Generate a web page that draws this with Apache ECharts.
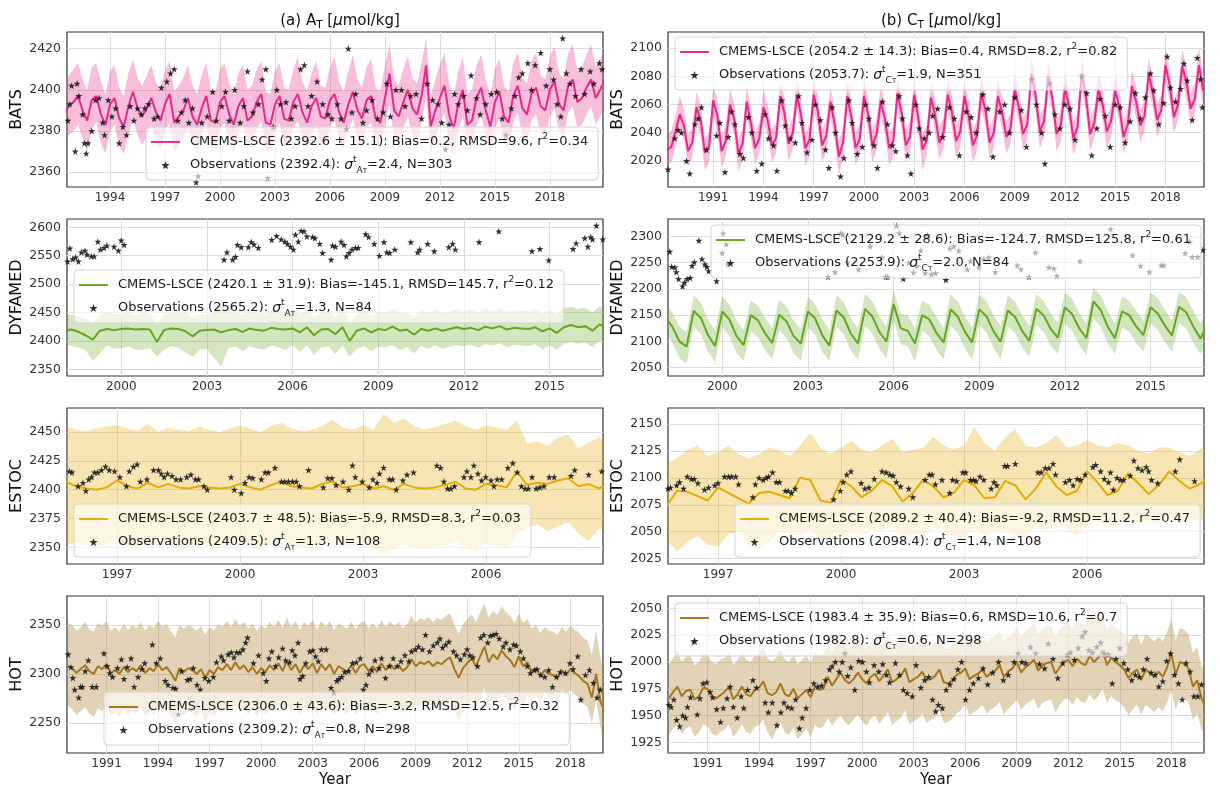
<!DOCTYPE html>
<html lang="en" style="height: 100%">
<head>
<meta charset="utf-8">
<title>CMEMS-LSCE vs observations: AT and CT at four stations</title>
</head>
<body style="height: 100%; margin: 0; background: #fff">
<div id="container" style="width: 1220px; height: 793px"></div>

<script type="text/javascript" src="https://cdn.jsdelivr.net/npm/echarts@6/dist/echarts.min.js"></script>

<script type="text/javascript">

// ---- data, quarterly model values + obs stars ----
var STEP = 0.25;

// BATS, total alkalinity
var batsAtStart = 1991.5;
var batsAtMean = [
  2388, 2392,
  2394, 2397, 2390, 2385,  2395, 2397, 2388, 2383,  2393, 2396, 2386, 2382,  2392, 2399, 2391, 2387,
  2391, 2396, 2389, 2385,  2393, 2398, 2384, 2387,  2390, 2396, 2387, 2383,  2391, 2397, 2385, 2384,
  2394, 2397, 2388, 2383,  2392, 2396, 2385, 2387,  2394, 2398, 2384, 2383,  2393, 2397, 2386, 2385,
  2394, 2398, 2389, 2384,  2392, 2396, 2387, 2386,  2395, 2398, 2389, 2384,  2393, 2399, 2390, 2386,
  2395, 2397, 2386, 2384,  2396, 2408, 2390, 2387,  2394, 2400, 2391, 2388,  2397, 2412, 2382, 2390,
  2396, 2402, 2388, 2381,  2393, 2400, 2383, 2385,  2396, 2401, 2390, 2382,  2394, 2399, 2387, 2384,
  2397, 2402, 2391, 2388,  2398, 2401, 2392, 2390,  2400, 2404, 2393, 2390,  2402, 2405, 2394, 2396,
  2401, 2405, 2396, 2400,
  2405
];
var batsAtLow = [
  2376, 2378,
  2380, 2383, 2376, 2370,  2381, 2384, 2374, 2369,  2380, 2383, 2372, 2369,  2378, 2386, 2378, 2373,
  2377, 2383, 2376, 2371,  2380, 2384, 2370, 2373,  2377, 2382, 2374, 2369,  2378, 2384, 2372, 2371,
  2381, 2384, 2375, 2369,  2379, 2383, 2372, 2374,  2381, 2385, 2371, 2370,  2380, 2384, 2373, 2372,
  2381, 2385, 2376, 2371,  2379, 2383, 2374, 2373,  2382, 2385, 2376, 2371,  2380, 2386, 2377, 2373,
  2382, 2384, 2373, 2371,  2383, 2393, 2377, 2374,  2381, 2387, 2378, 2375,  2384, 2397, 2369, 2377,
  2383, 2389, 2375, 2368,  2380, 2387, 2370, 2372,  2383, 2388, 2377, 2369,  2381, 2386, 2374, 2371,
  2384, 2389, 2378, 2375,  2385, 2388, 2379, 2377,  2387, 2391, 2380, 2377,  2389, 2392, 2381, 2383,
  2388, 2392, 2383, 2387,
  2392
];
var batsAtHigh = [
  2402, 2407,
  2410, 2413, 2405, 2400,  2411, 2413, 2404, 2398,  2409, 2412, 2401, 2397,  2408, 2415, 2406, 2402,
  2407, 2412, 2404, 2400,  2409, 2414, 2399, 2402,  2406, 2412, 2402, 2398,  2407, 2413, 2400, 2399,
  2410, 2413, 2403, 2398,  2408, 2412, 2400, 2402,  2410, 2414, 2399, 2398,  2409, 2413, 2401, 2400,
  2410, 2416, 2404, 2399,  2408, 2414, 2402, 2401,  2411, 2416, 2404, 2399,  2409, 2417, 2405, 2401,
  2411, 2415, 2401, 2399,  2412, 2422, 2405, 2402,  2410, 2416, 2406, 2403,  2413, 2425, 2397, 2405,
  2412, 2418, 2403, 2396,  2409, 2416, 2398, 2400,  2412, 2417, 2405, 2397,  2410, 2415, 2402, 2399,
  2413, 2418, 2406, 2403,  2414, 2418, 2407, 2405,  2416, 2421, 2408, 2405,  2418, 2422, 2409, 2411,
  2417, 2422, 2411, 2415,
  2419
];
var batsAtObs = [
  [1991.7,2385],[1991.8,2393],[1991.9,2402],[1992.1,2370],[1992.2,2403],[1992.3,2397],[1992.5,2388],[1992.6,2374],
  [1992.7,2369],[1992.8,2374],[1993.0,2380],[1993.2,2395],[1993.4,2396],[1993.6,2384],[1993.7,2378],[1993.9,2395],
  [1994.1,2387],[1994.3,2391],[1994.5,2374],[1994.7,2382],[1994.9,2378],[1995.1,2392],[1995.3,2385],[1995.5,2391],
  [1995.7,2388],[1995.9,2391],[1996.1,2393],[1996.4,2386],[1996.6,2387],[1996.8,2401],[1997.0,2363],[1997.1,2404],
  [1997.3,2408],[1997.5,2410],[1997.7,2385],[1997.9,2389],[1998.1,2395],[1998.3,2384],[1998.5,2391],[1998.7,2355],
  [1998.8,2358],[1999.0,2384],[1999.3,2387],[1999.6,2399],[1999.8,2385],[2000.1,2392],[2000.3,2399],[2000.5,2385],
  [2000.8,2400],[2001.1,2384],[2001.3,2392],[2001.5,2409],[2001.8,2389],[2002.1,2393],[2002.3,2405],[2002.5,2410],
  [2002.6,2357],[2002.9,2382],[2003.1,2400],[2003.3,2393],[2003.6,2394],[2003.9,2386],[2004.1,2392],[2004.4,2410],
  [2004.6,2412],[2004.8,2392],[2005.0,2397],[2005.3,2404],[2005.6,2393],[2005.9,2388],[2006.1,2386],[2006.4,2393],
  [2006.6,2386],[2006.9,2381],[2007.0,2420],[2007.2,2389],[2007.4,2398],[2007.8,2384],[2008.0,2390],[2008.3,2395],
  [2008.6,2386],[2008.9,2389],[2009.1,2403],[2009.3,2387],[2009.6,2400],[2009.9,2400],[2010.1,2392],[2010.4,2397],
  [2010.7,2398],[2011.0,2386],[2011.3,2403],[2011.6,2395],[2011.9,2393],[2012.1,2384],[2012.3,2371],[2012.5,2383],
  [2012.8,2398],[2013.0,2393],[2013.3,2397],[2013.5,2390],[2013.7,2407],[2014.0,2396],[2014.2,2388],[2014.5,2393],
  [2014.8,2398],[2015.1,2399],[2015.4,2386],[2015.6,2378],[2015.9,2391],[2016.1,2397],[2016.3,2406],[2016.5,2408],
  [2016.8,2413],[2017.0,2400],[2017.2,2412],[2017.5,2418],[2017.8,2402],[2018.0,2410],[2018.2,2405],[2018.4,2393],
  [2018.6,2387],[2018.7,2425],[2018.9,2408],[2019.1,2403],[2019.4,2397],[2019.7,2410],[2019.9,2398],[2020.2,2409],
  [2020.4,2403],[2020.7,2413],[2020.85,2410]
];

// BATS, dissolved inorganic carbon
var batsCtStart = 1988.25;
var batsCtMean = [
  2028, 2030, 2041,
  2053, 2045, 2027, 2033,  2058, 2049, 2026, 2030,  2063, 2052, 2027, 2034,  2060, 2050, 2025, 2032,
  2062, 2047, 2029, 2036,  2058, 2049, 2031, 2036,  2066, 2054, 2032, 2040,  2067, 2052, 2029, 2035,
  2067, 2055, 2031, 2038,  2062, 2046, 2023, 2033,  2066, 2051, 2029, 2036,  2066, 2053, 2031, 2039,
  2062, 2050, 2029, 2034,  2068, 2054, 2031, 2037,  2067, 2050, 2028, 2035,  2065, 2052, 2033, 2040,
  2067, 2055, 2034, 2041,  2066, 2052, 2031, 2038,  2068, 2056, 2033, 2040,  2066, 2054, 2037, 2043,
  2071, 2058, 2039, 2046,  2082, 2066, 2041, 2048,  2080, 2064, 2039, 2045,  2072, 2058, 2036, 2044,
  2082, 2066, 2039, 2047,  2071, 2060, 2041, 2048,  2070, 2058, 2037, 2046,  2073, 2062, 2045, 2052,
  2082, 2068, 2049, 2056,  2088, 2074, 2051, 2060,  2087, 2076, 2057, 2064,
  2088, 2070
];
var batsCtLow = [
  2018, 2019, 2030,
  2042, 2035, 2016, 2022,  2047, 2038, 2013, 2019,  2052, 2041, 2015, 2023,  2049, 2039, 2012, 2021,
  2050, 2036, 2017, 2025,  2047, 2038, 2019, 2025,  2055, 2043, 2020, 2029,  2056, 2041, 2016, 2024,
  2056, 2044, 2019, 2027,  2051, 2035, 2010, 2022,  2055, 2040, 2017, 2025,  2055, 2042, 2019, 2028,
  2051, 2039, 2017, 2023,  2057, 2043, 2019, 2026,  2056, 2039, 2013, 2024,  2054, 2041, 2021, 2029,
  2056, 2044, 2022, 2030,  2055, 2041, 2019, 2027,  2057, 2045, 2021, 2029,  2055, 2043, 2025, 2032,
  2060, 2047, 2027, 2035,  2071, 2055, 2029, 2037,  2069, 2053, 2027, 2034,  2061, 2047, 2024, 2033,
  2071, 2055, 2027, 2036,  2060, 2049, 2029, 2037,  2059, 2047, 2025, 2035,  2062, 2051, 2033, 2041,
  2071, 2057, 2037, 2045,  2077, 2063, 2039, 2049,  2076, 2065, 2045, 2053,
  2077, 2059
];
var batsCtHigh = [
  2040, 2041, 2052,
  2066, 2057, 2038, 2044,  2069, 2060, 2036, 2041,  2072, 2064, 2038, 2045,  2071, 2061, 2035, 2043,
  2073, 2058, 2040, 2047,  2070, 2060, 2042, 2047,  2076, 2065, 2043, 2051,  2078, 2063, 2039, 2046,
  2078, 2066, 2042, 2049,  2073, 2057, 2034, 2044,  2077, 2062, 2040, 2047,  2077, 2064, 2042, 2050,
  2073, 2061, 2040, 2045,  2079, 2065, 2042, 2048,  2078, 2061, 2039, 2046,  2076, 2063, 2044, 2051,
  2078, 2066, 2045, 2052,  2077, 2063, 2042, 2049,  2080, 2067, 2044, 2051,  2077, 2065, 2048, 2054,
  2082, 2069, 2050, 2057,  2093, 2077, 2052, 2059,  2091, 2075, 2050, 2056,  2083, 2069, 2047, 2055,
  2094, 2077, 2050, 2058,  2082, 2071, 2052, 2059,  2081, 2069, 2048, 2057,  2084, 2073, 2056, 2063,
  2093, 2079, 2060, 2067,  2100, 2085, 2062, 2071,  2099, 2087, 2068, 2075,
  2101, 2081
];
var batsCtObs = [
  [1988.3,2014],[1988.7,2036],[1988.9,2042],[1989.1,2040],[1989.4,2020],[1989.6,2011],[1989.9,2046],[1990.1,2050],
  [1990.3,2058],[1990.6,2028],[1991.2,2038],[1991.4,2047],[1991.7,2012],[1991.9,2037],[1992.1,2055],[1992.3,2046],
  [1992.6,2025],[1992.8,2022],[1993.1,2051],[1993.3,2040],[1993.6,2013],[1993.9,2018],[1994.1,2053],[1994.3,2036],
  [1994.6,2031],[1994.8,2013],[1995.1,2063],[1995.3,2045],[1995.6,2036],[1995.9,2033],[1996.1,2066],[1996.3,2047],
  [1996.6,2026],[1996.9,2035],[1997.1,2060],[1997.4,2049],[1997.7,2028],[1997.9,2015],[1998.1,2058],[1998.3,2040],
  [1998.6,2009],[1998.8,2022],[1999.1,2063],[1999.3,2047],[1999.6,2025],[1999.9,2030],[2000.1,2060],[2000.3,2050],
  [2000.6,2031],[2000.8,2015],[2001.1,2062],[2001.4,2046],[2001.7,2031],[2001.9,2027],[2002.1,2066],[2002.3,2050],
  [2002.6,2024],[2002.8,2011],[2003.1,2060],[2003.3,2043],[2003.6,2036],[2003.9,2040],[2004.1,2052],[2004.4,2057],
  [2004.7,2037],[2005.1,2058],[2005.4,2050],[2005.7,2024],[2006.1,2055],[2006.4,2051],[2006.7,2040],[2007.1,2067],
  [2007.4,2057],[2007.7,2023],[2008.1,2055],[2008.4,2060],[2008.7,2040],[2009.0,2065],[2009.4,2056],[2009.7,2030],
  [2010.0,2078],[2010.3,2060],[2010.6,2040],[2010.8,2018],[2011.1,2075],[2011.4,2053],[2011.7,2043],[2012.0,2060],
  [2012.3,2057],[2012.6,2035],[2013.0,2080],[2013.3,2068],[2013.6,2024],[2013.9,2043],[2014.1,2064],[2014.4,2052],
  [2014.7,2030],[2015.0,2060],[2015.3,2058],[2015.6,2033],[2015.9,2048],[2016.2,2068],[2016.5,2050],[2016.8,2065],
  [2017.1,2082],[2017.3,2070],[2017.6,2046],[2017.9,2061],[2018.1,2094],[2018.3,2072],[2018.6,2062],[2018.9,2071],
  [2019.1,2089],[2019.3,2077],[2019.6,2049],[2019.9,2093],[2020.1,2078],[2020.2,2058]
];

// DYFAMED, total alkalinity
var dyfAtStart = 1998.0;
var dyfAtMean = [
  2418, 2420, 2416, 2410,  2402, 2418, 2421, 2419,  2421, 2422, 2420, 2421,  2420, 2398, 2419, 2422,
  2421, 2417, 2408, 2418,  2419, 2420, 2415, 2419,  2421, 2416, 2422, 2419,  2418, 2423, 2421, 2420,
  2422, 2415, 2424, 2410,  2420, 2421, 2412, 2424,  2400, 2418, 2422, 2415,  2421, 2419, 2425, 2418,
  2420, 2411, 2421, 2418,  2422, 2418, 2421, 2424,  2421, 2423, 2419, 2425,  2422, 2426, 2420, 2423,
  2422, 2421, 2424, 2417,  2422, 2414, 2424, 2428,  2424, 2426, 2418, 2429,
  2423
];
var dyfAtLow = [
  2395, 2392, 2388, 2384,  2365, 2378, 2392, 2386,  2387, 2390, 2385, 2384,  2388, 2372, 2385, 2390,
  2388, 2380, 2372, 2385,  2386, 2370, 2355, 2388,  2390, 2382, 2391, 2386,  2385, 2392, 2389, 2384,
  2393, 2380, 2392, 2375,  2388, 2390, 2377, 2393,  2372, 2386, 2391, 2382,  2390, 2388, 2393, 2384,
  2389, 2378, 2391, 2386,  2392, 2386, 2390, 2393,  2390, 2393, 2388, 2394,  2392, 2396, 2389, 2393,
  2392, 2391, 2394, 2385,  2393, 2384, 2395, 2398,  2395, 2397, 2389, 2400,
  2395
];
var dyfAtHigh = [
  2448, 2446, 2443, 2440,  2432, 2446, 2452, 2448,  2447, 2450, 2445, 2449,  2448, 2430, 2447, 2451,
  2448, 2452, 2440, 2446,  2447, 2449, 2475, 2450,  2451, 2446, 2453, 2449,  2447, 2454, 2451, 2450,
  2455, 2446, 2456, 2442,  2450, 2452, 2441, 2458,  2432, 2448, 2454, 2445,  2452, 2450, 2458, 2448,
  2451, 2442, 2455, 2449,  2456, 2449, 2452, 2456,  2452, 2455, 2450, 2457,  2453, 2458, 2451, 2455,
  2454, 2452, 2456, 2448,  2455, 2446, 2457, 2460,  2456, 2459, 2450, 2461,
  2455
];
var dyfAtObs = [
  [1998.12,2540],[1998.2,2563],[1998.3,2544],[1998.4,2547],[1998.5,2540],[1998.6,2556],[1998.73,2559],[1998.8,2552],
  [1998.95,2549],[1999.05,2549],[1999.18,2575],[1999.27,2561],[1999.4,2564],[1999.5,2568],[1999.75,2566],[1999.9,2559],
  [2000.0,2577],[2000.1,2569],[2003.6,2543],[2003.7,2556],[2003.9,2543],[2004.0,2548],[2004.07,2569],[2004.2,2565],
  [2004.45,2565],[2004.55,2574],[2004.65,2570],[2004.8,2564],[2005.27,2578],[2005.44,2585],[2005.6,2579],[2005.73,2575],
  [2005.82,2571],[2005.93,2566],[2006.03,2561],[2006.1,2587],[2006.2,2575],[2006.3,2594],[2006.4,2593],[2006.5,2584],
  [2006.7,2583],[2006.78,2581],[2006.95,2571],[2007.05,2555],[2007.35,2543],[2007.4,2568],[2007.5,2566],[2007.7,2575],
  [2007.8,2569],[2007.88,2549],[2007.98,2555],[2008.08,2561],[2008.2,2564],[2008.3,2564],[2008.56,2588],[2008.66,2583],
  [2008.86,2571],[2009.04,2550],[2009.2,2574],[2009.3,2556],[2009.4,2555],[2009.58,2561],[2010.14,2574],[2010.38,2556],
  [2010.45,2561],[2010.73,2571],[2010.96,2558],[2011.47,2565],[2011.6,2571],[2011.7,2561],[2012.53,2574],[2013.22,2593],
  [2014.38,2558],[2014.66,2562],[2014.97,2542],[2015.82,2562],[2015.93,2572],[2016.23,2581],[2016.34,2566],[2016.44,2583],
  [2016.5,2579],[2016.64,2603],[2016.86,2579]
];

// DYFAMED, dissolved inorganic carbon
var dyfCtStart = 1998.0;
var dyfCtMean = [
  2146, 2128, 2100, 2090,  2158, 2145, 2112, 2091,  2157, 2142, 2110, 2093,  2150, 2140, 2115, 2097,
  2151, 2138, 2110, 2096,  2157, 2144, 2112, 2092,  2159, 2146, 2115, 2096,  2162, 2148, 2118, 2100,
  2171, 2125, 2120, 2096,  2150, 2142, 2116, 2098,  2161, 2147, 2118, 2098,  2161, 2148, 2119, 2099,
  2159, 2147, 2120, 2101,  2162, 2150, 2124, 2107,  2165, 2152, 2125, 2106,  2176, 2160, 2128, 2106,
  2157, 2150, 2128, 2112,  2165, 2153, 2130, 2111,  2166, 2155, 2128, 2105,
  2135
];
var dyfCtLow = [
  2118, 2098, 2068, 2058,  2128, 2114, 2080, 2060,  2127, 2110, 2078, 2062,  2120, 2108, 2082, 2066,
  2121, 2106, 2078, 2064,  2126, 2113, 2080, 2062,  2128, 2114, 2083, 2064,  2130, 2116, 2086, 2068,
  2140, 2095, 2090, 2062,  2120, 2110, 2084, 2066,  2130, 2116, 2086, 2066,  2130, 2117, 2088, 2066,
  2128, 2116, 2088, 2070,  2131, 2119, 2092, 2076,  2134, 2120, 2093, 2074,  2144, 2128, 2096, 2076,
  2126, 2119, 2096, 2080,  2134, 2122, 2098, 2080,  2135, 2124, 2097, 2076,
  2102
];
var dyfCtHigh = [
  2172, 2156, 2128, 2118,  2188, 2174, 2142, 2120,  2186, 2170, 2140, 2122,  2178, 2168, 2144, 2126,
  2180, 2166, 2140, 2124,  2186, 2172, 2142, 2122,  2188, 2175, 2144, 2126,  2190, 2177, 2148, 2128,
  2198, 2152, 2150, 2125,  2178, 2170, 2146, 2126,  2190, 2176, 2148, 2127,  2190, 2177, 2150, 2128,
  2188, 2176, 2150, 2130,  2190, 2178, 2153, 2136,  2193, 2181, 2155, 2134,  2203, 2188, 2158, 2134,
  2185, 2178, 2158, 2140,  2193, 2182, 2160, 2140,  2194, 2184, 2158, 2134,
  2162
];
var dyfCtObs = [
  [1998.16,2271],[1998.23,2242],[1998.34,2241],[1998.39,2232],[1998.47,2219],[1998.61,2205],[1998.68,2212],[1998.77,2219],
  [1998.88,2221],[1998.94,2244],[1999.02,2251],[1999.18,2292],[1999.29,2257],[1999.39,2247],[1999.46,2242],[1999.52,2234],
  [1999.8,2215],[2000.0,2268],[2000.03,2306],[2000.14,2285],[2000.2,2247],[2003.7,2223],[2003.95,2232],[2004.15,2306],
  [2004.22,2303],[2004.39,2250],[2004.77,2237],[2005.18,2281],[2005.59,2260],[2005.72,2223],[2005.79,2223],[2006.1,2320],
  [2006.2,2306],[2006.34,2219],[2006.54,2250],[2006.7,2231],[2006.81,2244],[2006.95,2273],[2007.11,2230],[2007.19,2303],
  [2007.33,2228],[2007.47,2230],[2007.83,2217],[2007.97,2277],[2008.11,2281],[2008.28,2273],[2008.58,2237],[2008.69,2253],
  [2008.99,2241],[2009.16,2257],[2009.33,2260],[2009.56,2232],[2010.33,2245],[2010.46,2237],[2010.74,2223],[2010.97,2269],
  [2011.44,2241],[2011.61,2239],[2011.72,2225],[2012.53,2253],[2013.6,2314],[2014.37,2264],[2014.65,2244],[2014.96,2232],
  [2015.37,2245],[2015.46,2245],[2016.21,2268],[2016.37,2290],[2016.46,2261],[2016.65,2261],[2016.83,2274]
];

// ESTOC, total alkalinity
var estAtStart = 1995.75;
var estAtMean = [
  2407,
  2403, 2401, 2400, 2402,  2408, 2403, 2401, 2406,  2402, 2405, 2402, 2401,  2403, 2402, 2401, 2402,
  2405, 2402, 2400, 2404,  2407, 2403, 2402, 2401,  2405, 2407, 2402, 2403,  2405, 2401, 2403, 2400,
  2405, 2402, 2401, 2402,  2404, 2407, 2401, 2400,  2405, 2404, 2402, 2416,  2404, 2406, 2405, 2408,
  2410, 2403, 2405, 2401,
  2405
];
var estAtLow = [
  2352,
  2354, 2352, 2350, 2353,  2356, 2352, 2349, 2354,  2351, 2355, 2350, 2348,  2353, 2351, 2349, 2352,
  2355, 2351, 2347, 2354,  2357, 2352, 2350, 2348,  2354, 2357, 2352, 2350,  2355, 2349, 2344, 2349,
  2353, 2350, 2348, 2351,  2352, 2356, 2349, 2346,  2354, 2352, 2349, 2362,  2366, 2370, 2364, 2368,
  2372, 2362, 2355, 2366,
  2364
];
var estAtHigh = [
  2455,
  2452, 2451, 2453, 2455,  2456, 2453, 2451, 2457,  2450, 2454, 2452, 2451,  2455, 2452, 2450, 2453,
  2456, 2453, 2450, 2455,  2458, 2453, 2451, 2452,  2455, 2461, 2454, 2452,  2456, 2452, 2466, 2458,
  2462, 2455, 2452, 2454,  2457, 2460, 2455, 2452,  2456, 2454, 2452, 2460,  2440, 2442, 2438, 2445,
  2448, 2436, 2441, 2445,
  2444
];
var estAtObs = [
  [1995.84,2416],[1995.9,2415],[1996.05,2403],[1996.17,2406],[1996.24,2399],[1996.31,2409],[1996.38,2411],[1996.45,2415],
  [1996.53,2415],[1996.62,2417],[1996.72,2420],[1996.81,2417],[1996.94,2416],[1997.07,2411],[1997.23,2403],[1997.3,2416],
  [1997.4,2420],[1997.49,2422],[1997.57,2407],[1997.73,2409],[1997.89,2417],[1998.01,2417],[1998.08,2414],[1998.15,2411],
  [1998.23,2414],[1998.34,2412],[1998.44,2409],[1998.55,2409],[1998.7,2411],[1998.8,2413],[1998.91,2409],[1998.99,2409],
  [1999.12,2403],[1999.2,2400],[1999.78,2411],[1999.86,2400],[2000.03,2397],[2000.12,2406],[2000.22,2411],[2000.31,2410],
  [2000.52,2409],[2000.61,2415],[2000.69,2415],[2000.85,2419],[2001.01,2407],[2001.09,2407],[2001.18,2407],[2001.28,2407],
  [2001.37,2407],[2001.45,2403],[2001.67,2417],[2002.03,2402],[2002.14,2410],[2002.24,2410],[2002.34,2404],[2002.51,2407],
  [2002.65,2400],[2002.74,2421],[2002.81,2411],[2002.98,2407],[2003.15,2402],[2003.24,2409],[2003.34,2406],[2003.4,2414],
  [2003.5,2419],[2003.64,2409],[2003.72,2409],[2003.81,2400],[2003.97,2408],[2004.07,2413],[2004.23,2415],[2004.8,2421],
  [2004.89,2419],[2004.97,2407],[2005.06,2401],[2005.14,2401],[2005.23,2403],[2005.46,2411],[2005.53,2416],[2005.63,2411],
  [2005.7,2421],[2005.8,2414],[2005.89,2408],[2005.99,2411],[2006.12,2408],[2006.19,2403],[2006.27,2409],[2006.38,2409],
  [2006.53,2419],[2006.65,2423],[2006.76,2415],[2006.86,2403],[2006.95,2401],[2007.03,2401],[2007.12,2411],[2007.22,2401],
  [2007.31,2402],[2007.41,2403],[2007.54,2411],[2007.66,2411],[2008.07,2412],[2008.16,2417],[2008.5,2413],[2008.82,2416]
];

// ESTOC, dissolved inorganic carbon
var estCtStart = 1995.75;
var estCtMean = [
  2074,
  2088, 2087, 2083, 2079,  2091, 2086, 2081, 2076,  2086, 2087, 2084, 2081,  2100, 2098, 2079, 2077,
  2098, 2092, 2082, 2088,  2098, 2092, 2078, 2086,  2098, 2092, 2082, 2086,  2098, 2093, 2081, 2082,
  2097, 2093, 2080, 2090,  2105, 2092, 2084, 2088,  2106, 2096, 2084, 2088,  2104, 2095, 2085, 2093,
  2106, 2097, 2090, 2094,
  2101
];
var estCtLow = [
  2042,
  2032, 2040, 2046, 2038,  2036, 2048, 2050, 2038,  2034, 2040, 2050, 2048,  2046, 2052, 2042, 2045,
  2040, 2050, 2046, 2052,  2050, 2056, 2044, 2048,  2046, 2055, 2050, 2045,  2044, 2054, 2045, 2050,
  2052, 2046, 2044, 2055,  2050, 2058, 2052, 2046,  2055, 2060, 2054, 2058,  2062, 2056, 2060, 2058,
  2064, 2058, 2062, 2060,
  2066
];
var estCtHigh = [
  2114,
  2118, 2126, 2130, 2120,  2124, 2130, 2122, 2118,  2122, 2128, 2125, 2120,  2130, 2142, 2128, 2122,
  2128, 2134, 2126, 2124,  2130, 2136, 2124, 2126,  2128, 2138, 2130, 2126,  2130, 2147, 2132, 2125,
  2138, 2145, 2130, 2128,  2132, 2140, 2128, 2130,  2135, 2130, 2128, 2132,  2130, 2125, 2122, 2128,
  2128, 2124, 2120, 2126,
  2134
];
var estCtObs = [
  [1995.78,2090],[1995.84,2091],[1995.99,2093],[1996.06,2096],[1996.16,2090],[1996.25,2101],[1996.35,2099],[1996.42,2099],
  [1996.51,2095],[1996.67,2089],[1996.77,2091],[1996.92,2093],[1997.0,2095],[1997.16,2101],[1997.26,2101],[1997.33,2101],
  [1997.43,2101],[1997.5,2094],[1997.85,2082],[1997.91,2094],[1998.0,2100],[1998.1,2098],[1998.17,2100],[1998.23,2101],
  [1998.33,2105],[1998.42,2096],[1998.5,2096],[1998.64,2088],[1998.71,2088],[1998.79,2086],[1998.88,2090],[1999.82,2080],
  [1999.98,2088],[2000.05,2096],[2000.14,2103],[2000.24,2106],[2000.49,2095],[2000.58,2090],[2000.68,2091],[2000.81,2099],
  [2001.0,2106],[2001.1,2105],[2001.19,2103],[2001.27,2102],[2001.35,2096],[2001.45,2092],[2001.65,2090],[2001.75,2082],
  [2002.05,2098],[2002.15,2103],[2002.22,2103],[2002.3,2094],[2002.46,2098],[2002.65,2086],[2002.72,2098],[2002.82,2097],
  [2002.97,2105],[2003.04,2105],[2003.16,2098],[2003.23,2098],[2003.29,2097],[2003.39,2101],[2003.48,2098],[2003.66,2090],
  [2003.73,2096],[2003.8,2093],[2003.99,2111],[2004.06,2111],[2004.25,2113],[2004.8,2105],[2004.88,2105],[2004.98,2109],
  [2005.07,2109],[2005.17,2113],[2005.23,2103],[2005.47,2096],[2005.57,2098],[2005.66,2093],[2005.76,2099],[2005.84,2098],
  [2005.95,2103],[2006.14,2110],[2006.21,2112],[2006.33,2106],[2006.42,2099],[2006.52,2096],[2006.57,2105],[2006.64,2089],
  [2006.73,2100],[2006.81,2098],[2006.89,2098],[2007.05,2102],[2007.14,2116],[2007.24,2109],[2007.34,2107],[2007.44,2110],
  [2007.5,2106],[2007.57,2098],[2007.72,2095],[2008.15,2106],[2008.26,2117],[2008.62,2097],[2008.86,2113]
];

// HOT, total alkalinity
var hotAtStart = 1988.75;
var hotAtMean = [
  2308,
  2306, 2301, 2305, 2309,  2303, 2300, 2308, 2305,  2310, 2301, 2304, 2300,  2307, 2302, 2306, 2303,
  2309, 2301, 2306, 2303,  2310, 2304, 2307, 2301,  2293, 2306, 2302, 2306,  2304, 2300, 2305, 2296,
  2304, 2300, 2307, 2304,  2310, 2304, 2312, 2305,  2309, 2302, 2307, 2300,  2306, 2302, 2309, 2304,
  2311, 2303, 2313, 2304,  2310, 2301, 2309, 2305,  2311, 2301, 2310, 2304,  2310, 2300, 2308, 2305,
  2302, 2309, 2301, 2308,  2310, 2303, 2308, 2302,  2311, 2304, 2310, 2305,  2309, 2303, 2307, 2315,
  2308, 2312, 2310, 2313,  2308, 2312, 2310, 2314,  2317, 2305, 2296, 2306,  2311, 2316, 2308, 2318,
  2328, 2312, 2320, 2315,  2324, 2318, 2314, 2307,  2318, 2308, 2312, 2302,  2306, 2298, 2304, 2300,
  2299, 2296, 2304, 2299,  2305, 2301, 2298, 2293,  2290, 2276, 2300, 2272,
  2262
];
var hotAtLow = [
  2268,
  2264, 2258, 2262, 2266,  2260, 2256, 2265, 2262,  2268, 2258, 2261, 2256,  2264, 2259, 2263, 2260,
  2266, 2257, 2262, 2259,  2267, 2260, 2264, 2257,  2252, 2262, 2258, 2262,  2261, 2256, 2262, 2252,
  2261, 2257, 2264, 2261,  2267, 2260, 2268, 2262,  2266, 2258, 2264, 2257,  2263, 2259, 2266, 2261,
  2268, 2260, 2270, 2261,  2267, 2258, 2266, 2262,  2268, 2258, 2267, 2261,  2267, 2257, 2265, 2262,
  2259, 2266, 2258, 2265,  2267, 2260, 2265, 2259,  2268, 2261, 2267, 2262,  2266, 2260, 2264, 2272,
  2265, 2269, 2267, 2270,  2265, 2269, 2267, 2271,  2274, 2262, 2252, 2263,  2268, 2273, 2265, 2275,
  2285, 2268, 2277, 2272,  2281, 2275, 2271, 2264,  2276, 2266, 2280, 2272,  2279, 2270, 2282, 2276,
  2278, 2272, 2284, 2278,  2284, 2279, 2276, 2270,  2266, 2250, 2274, 2246,
  2225
];
var hotAtHigh = [
  2352,
  2350, 2344, 2348, 2353,  2346, 2343, 2352, 2349,  2354, 2344, 2348, 2343,  2351, 2345, 2350, 2347,
  2353, 2344, 2350, 2347,  2354, 2348, 2351, 2344,  2337, 2350, 2346, 2350,  2348, 2344, 2349, 2340,
  2348, 2344, 2351, 2348,  2354, 2348, 2356, 2349,  2353, 2346, 2351, 2344,  2350, 2346, 2353, 2348,
  2355, 2347, 2357, 2348,  2354, 2345, 2353, 2349,  2355, 2345, 2354, 2348,  2354, 2344, 2352, 2349,
  2346, 2353, 2345, 2352,  2354, 2347, 2352, 2346,  2355, 2348, 2354, 2349,  2353, 2347, 2351, 2359,
  2352, 2357, 2355, 2358,  2353, 2357, 2355, 2359,  2362, 2350, 2341, 2351,  2356, 2361, 2353, 2363,
  2372, 2357, 2365, 2360,  2369, 2363, 2359, 2352,  2362, 2352, 2356, 2346,  2350, 2342, 2348, 2344,
  2343, 2340, 2348, 2343,  2349, 2345, 2342, 2337,  2334, 2320, 2344, 2316,
  2300
];
var hotAtObs = [
  [1988.77,2320],[1988.93,2307],[1989.04,2296],[1989.15,2284],[1989.38,2276],[1989.49,2287],[1989.6,2287],[1989.76,2303],
  [1989.94,2314],[1990.17,2287],[1990.4,2287],[1990.85,2321],[1991.03,2308],[1991.19,2301],[1991.35,2297],[1991.64,2306],
  [1991.87,2315],[1992.02,2295],[1992.2,2307],[1992.43,2316],[1992.61,2287],[1992.84,2297],[1993.06,2305],[1993.22,2311],
  [1993.67,2330],[1993.9,2311],[1994.13,2316],[1994.42,2293],[1994.58,2289],[1994.87,2286],[1995.03,2285],[1995.19,2259],
  [1995.37,2303],[1995.71,2294],[1995.87,2295],[1996.05,2306],[1996.27,2289],[1996.46,2284],[1996.73,2296],[1996.95,2293],
  [1997.22,2297],[1997.4,2312],[1997.68,2318],[1997.81,2314],[1998.08,2320],[1998.26,2322],[1998.42,2317],[1998.58,2322],
  [1998.76,2322],[1998.94,2325],[1999.1,2332],[1999.21,2337],[1999.55,2311],[1999.85,2319],[2000.12,2301],[2000.3,2293],
  [2000.46,2316],[2000.62,2323],[2000.84,2308],[2001.02,2317],[2001.25,2326],[2001.43,2314],[2001.66,2312],[2001.81,2324],
  [2001.97,2319],[2002.15,2332],[2002.27,2295],[2002.42,2298],[2002.6,2311],[2002.83,2323],[2003.01,2324],[2003.17,2318],
  [2003.33,2313],[2003.51,2325],[2003.78,2325],[2004.07,2286],[2004.23,2281],[2004.41,2293],[2004.53,2295],[2004.69,2297],
  [2004.87,2302],[2005.09,2303],[2005.32,2311],[2005.54,2312],[2005.77,2316],[2005.95,2284],[2006.11,2289],[2006.27,2300],
  [2006.45,2304],[2006.63,2314],[2006.86,2306],[2007.01,2316],[2007.24,2296],[2007.47,2308],[2007.69,2316],[2007.92,2308],
  [2008.14,2313],[2008.37,2319],[2008.6,2313],[2008.75,2323],[2008.98,2325],[2009.16,2328],[2009.39,2325],[2009.57,2340],
  [2009.8,2323],[2010.02,2329],[2010.25,2332],[2010.41,2336],[2010.56,2327],[2010.74,2330],[2010.93,2333],[2011.2,2323],
  [2011.38,2319],[2011.6,2315],[2011.83,2320],[2011.99,2325],[2012.15,2319],[2012.33,2317],[2012.6,2308],[2012.78,2337],
  [2012.96,2340],[2013.19,2332],[2013.34,2339],[2013.5,2340],[2013.68,2341],[2013.86,2336],[2014.09,2328],[2014.25,2332],
  [2014.48,2325],[2014.7,2330],[2014.86,2329],[2015.09,2323],[2015.27,2316],[2015.49,2308],[2015.67,2301],[2015.9,2304],
  [2016.06,2305],[2016.28,2299],[2016.51,2297],[2016.74,2304],[2016.96,2287],[2017.19,2297],[2017.41,2302],[2017.71,2301],
  [2017.98,2311],[2018.16,2305],[2018.43,2318],[2018.61,2274],[2018.88,2299],[2019.11,2304],[2019.34,2291],[2019.56,2276],
  [2019.74,2284]
];

// HOT, dissolved inorganic carbon
var hotCtStart = 1988.75;
var hotCtMean = [
  1966,
  1972, 1977, 1968, 1973,  1974, 1965, 1968, 1976,  1975, 1968, 1966, 1969,  1972, 1977, 1965, 1970,
  1977, 1970, 1968, 1974,  1976, 1982, 1971, 1969,  1972, 1980, 1970, 1968,  1975, 1966, 1970, 1974,
  1967, 1977, 1974, 1975,  1986, 1978, 1984, 1990,  1983, 1980, 1984, 1990,  1984, 1980, 1986, 1989,
  1982, 1988, 1993, 1981,  1984, 1987, 1994, 1981,  1984, 1986, 1991, 1983,  1984, 1987, 1993, 1981,
  1980, 1983, 1988, 1990,  1994, 1984, 1987, 1989,  1993, 1986, 1990, 1992,  1997, 1986, 1991, 1994,
  2000, 1990, 1995, 1998,  2002, 1992, 1997, 1999,  2000, 1989, 1995, 2000,  2002, 1996, 2003, 1999,
  1997, 2006, 2000, 2004,  2011, 1997, 2004, 2000,  1997, 1993, 1985, 1990,  1993, 1983, 1993, 1990,
  1986, 1991, 1986, 1995,  2008, 1988, 2000, 1998,  1994, 1977, 1983, 1966,
  1958
];
var hotCtLow = [
  1932,
  1938, 1942, 1933, 1938,  1940, 1930, 1934, 1942,  1940, 1933, 1931, 1935,  1937, 1942, 1930, 1935,
  1942, 1935, 1933, 1939,  1941, 1946, 1934, 1928,  1936, 1944, 1934, 1932,  1939, 1928, 1933, 1938,
  1930, 1941, 1938, 1940,  1948, 1940, 1946, 1950,  1944, 1941, 1946, 1951,  1945, 1940, 1947, 1950,
  1942, 1948, 1953, 1941,  1945, 1948, 1955, 1942,  1945, 1947, 1952, 1943,  1946, 1948, 1955, 1943,
  1944, 1947, 1952, 1955,  1960, 1950, 1953, 1956,  1960, 1952, 1956, 1958,  1963, 1951, 1956, 1960,
  1965, 1955, 1960, 1963,  1966, 1956, 1962, 1964,  1965, 1953, 1960, 1965,  1966, 1960, 1967, 1963,
  1962, 1970, 1964, 1968,  1975, 1962, 1968, 1964,  1962, 1958, 1950, 1956,  1960, 1951, 1960, 1957,
  1953, 1958, 1954, 1962,  1974, 1955, 1967, 1965,  1962, 1946, 1952, 1938,
  1928
];
var hotCtHigh = [
  1998,
  2004, 2010, 2000, 2005,  2006, 1997, 2000, 2008,  2007, 2000, 1998, 2002,  2004, 2009, 1997, 2002,
  2009, 2002, 2000, 2006,  2008, 2014, 2003, 2001,  2004, 2012, 2002, 2000,  2007, 1998, 2002, 2006,
  1999, 2009, 2006, 2007,  2018, 2010, 2016, 2022,  2015, 2012, 2016, 2022,  2016, 2012, 2018, 2021,
  2014, 2020, 2025, 2013,  2016, 2019, 2026, 2013,  2016, 2018, 2023, 2015,  2016, 2019, 2025, 2013,
  2012, 2015, 2020, 2022,  2026, 2016, 2019, 2021,  2025, 2018, 2022, 2024,  2029, 2019, 2024, 2027,
  2033, 2024, 2029, 2032,  2036, 2026, 2031, 2033,  2034, 2024, 2030, 2034,  2037, 2031, 2040, 2036,
  2034, 2050, 2038, 2040,  2044, 2030, 2036, 2032,  2030, 2026, 2018, 2024,  2026, 2016, 2026, 2023,
  2019, 2024, 2019, 2028,  2040, 2020, 2032, 2030,  2026, 2008, 2014, 1996,
  1990
];
var hotCtObs = [
  [1988.75,1960],[1988.88,1958],[1989.04,1965],[1989.2,1946],[1989.38,1940],[1989.56,1950],[1989.72,1948],[1989.83,1958],
  [1990.01,1967],[1990.17,2018],[1990.4,1951],[1990.56,1966],[1990.74,1980],[1990.96,1981],[1991.15,1972],[1991.3,1967],
  [1991.53,1956],[1991.76,1944],[1991.92,1957],[1992.14,1966],[1992.32,1977],[1992.5,1958],[1992.73,1948],[1992.96,1968],
  [1993.11,1957],[1993.34,1974],[1993.64,1983],[1993.86,1976],[1994.36,1962],[1994.54,1953],[1994.77,1962],[1995.04,1941],
  [1995.27,1953],[1995.45,1962],[1995.67,1958],[1995.9,1957],[1996.13,1965],[1996.35,1938],[1996.51,1948],[1996.74,1957],
  [1996.96,1974],[1997.19,1980],[1997.42,1977],[1997.64,1978],[1997.87,1983],[1998.1,1993],[1998.25,1996],[1998.44,2000],
  [1998.66,1991],[1998.84,2000],[1999.0,2008],[1999.16,1987],[1999.34,1995],[1999.57,1974],[1999.8,2001],[2000.02,2000],
  [2000.25,1991],[2000.43,1981],[2000.7,1997],[2000.97,1991],[2001.2,1998],[2001.42,1988],[2001.6,1981],[2001.94,1999],
  [2002.17,1988],[2002.4,1974],[2002.62,1971],[2002.92,1968],[2003.14,1997],[2003.42,1976],[2003.64,1983],[2003.87,1986],
  [2004.1,1965],[2004.28,1954],[2004.44,1960],[2004.67,1957],[2004.89,1974],[2005.11,1979],[2005.34,1984],[2005.57,1993],
  [2005.79,2000],[2006.02,1965],[2006.25,1974],[2006.47,1980],[2006.77,1985],[2007.04,1994],[2007.31,1979],[2007.6,1990],
  [2007.94,2000],[2008.22,1983],[2008.51,1988],[2008.85,2000],[2009.08,2008],[2009.3,2000],[2009.53,1999],[2009.8,2014],
  [2010.1,2008],[2010.32,1998],[2010.62,1994],[2010.84,2017],[2011.11,2003],[2011.39,1985],[2011.68,1999],[2011.97,2007],
  [2012.13,2009],[2012.36,2002],[2012.58,2013],[2012.81,2024],[2012.97,2028],[2013.2,2011],[2013.42,2009],[2013.65,2014],
  [2013.88,2018],[2014.1,2008],[2014.33,2007],[2014.56,1980],[2014.78,2003],[2015.01,2013],[2015.23,1999],[2015.46,1993],
  [2015.69,1983],[2015.91,1988],[2016.14,1986],[2016.37,1993],[2016.59,2003],[2016.82,1990],[2017.05,1988],[2017.27,1977],
  [2017.5,1982],[2017.73,2001],[2017.95,2008],[2018.18,1988],[2018.41,1980],[2018.63,1965],[2018.86,1999],[2019.09,1991],
  [2019.31,1968],[2019.54,1968],[2019.76,1979]
];

// axis ticks
var yearsFrom1991 = [1991, 1994, 1997, 2000, 2003, 2006, 2009, 2012, 2015, 2018];
var yearsFrom1994 = [1994, 1997, 2000, 2003, 2006, 2009, 2012, 2015, 2018];
var yearsDyfamed = [2000, 2003, 2006, 2009, 2012, 2015];
var yearsEstoc = [1997, 2000, 2003, 2006];
var batsAtTicks = [2360, 2380, 2400, 2420];
var batsCtTicks = [2020, 2040, 2060, 2080, 2100];
var dyfAtTicks = [2350, 2400, 2450, 2500, 2550, 2600];
var dyfCtTicks = [2050, 2100, 2150, 2200, 2250, 2300];
var estAtTicks = [2350, 2375, 2400, 2425, 2450];
var estCtTicks = [2025, 2050, 2075, 2100, 2125, 2150];
var hotAtTicks = [2250, 2300, 2350];
var hotCtTicks = [1925, 1950, 1975, 2000, 2025, 2050];

// legend texts
var batsAtLegend = ['CMEMS-LSCE (2392.6 ± 15.1): Bias=0.2, RMSD=9.6, r{sup|2}=0.34',
                    'Observations (2392.4): {it|σ}{sup|t}{sub|A}{sub2|T}=2.4, N=303'];
var batsCtLegend = ['CMEMS-LSCE (2054.2 ± 14.3): Bias=0.4, RMSD=8.2, r{sup|2}=0.82',
                    'Observations (2053.7): {it|σ}{sup|t}{sub|C}{sub2|T}=1.9, N=351'];
var dyfAtLegend = ['CMEMS-LSCE (2420.1 ± 31.9): Bias=-145.1, RMSD=145.7, r{sup|2}=0.12',
                   'Observations (2565.2): {it|σ}{sup|t}{sub|A}{sub2|T}=1.3, N=84'];
var dyfCtLegend = ['CMEMS-LSCE (2129.2 ± 28.6): Bias=-124.7, RMSD=125.8, r{sup|2}=0.61',
                   'Observations (2253.9): {it|σ}{sup|t}{sub|C}{sub2|T}=2.0, N=84'];
var estAtLegend = ['CMEMS-LSCE (2403.7 ± 48.5): Bias=-5.9, RMSD=8.3, r{sup|2}=0.03',
                   'Observations (2409.5): {it|σ}{sup|t}{sub|A}{sub2|T}=1.3, N=108'];
var estCtLegend = ['CMEMS-LSCE (2089.2 ± 40.4): Bias=-9.2, RMSD=11.2, r{sup|2}=0.47',
                   'Observations (2098.4): {it|σ}{sup|t}{sub|C}{sub2|T}=1.4, N=108'];
var hotAtLegend = ['CMEMS-LSCE (2306.0 ± 43.6): Bias=-3.2, RMSD=12.5, r{sup|2}=0.32',
                   'Observations (2309.2): {it|σ}{sup|t}{sub|A}{sub2|T}=0.8, N=298'];
var hotCtLegend = ['CMEMS-LSCE (1983.4 ± 35.9): Bias=0.6, RMSD=10.6, r{sup|2}=0.7',
                   'Observations (1982.8): {it|σ}{sup|t}{sub|C}{sub2|T}=0.6, N=298'];

// ---- layout ----
var FONT = 'DejaVu Sans';
var STAR = 'path://M50,2 L61,36 L97,36 L68,57 L79,92 L50,71 L21,92 L32,57 L3,36 L39,36 Z';
var LINE_ICON = 'path://M0,0 L30,0 L30,2 L0,2 Z';
var colLeft = [67, 668];
var plotWidth = 536;
var rowTop = [32, 219, 408, 596];
var rowHeight = [155, 157, 156, 157];

var panels = [
  {row: 0, col: 0, site: 'BATS', start: batsAtStart, mean: batsAtMean, low: batsAtLow, high: batsAtHigh, obs: batsAtObs,
   xRange: [1991.65, 2020.9], yRange: [2352.7, 2428.1], xTicks: yearsFrom1994, yTicks: batsAtTicks,
   color: '#E7298A', band: 'rgba(231,41,138,0.30)', legendPos: [146, 127], labels: batsAtLegend},
  {row: 0, col: 1, site: 'BATS', start: batsCtStart, mean: batsCtMean, low: batsCtLow, high: batsCtHigh, obs: batsCtObs,
   xRange: [1988.3, 2020.3], yRange: [2001.5, 2111.4], xTicks: yearsFrom1991, yTicks: batsCtTicks,
   color: '#E7298A', band: 'rgba(231,41,138,0.30)', legendPos: [675, 37], labels: batsCtLegend},
  {row: 1, col: 0, site: 'DYFAMED', start: dyfAtStart, mean: dyfAtMean, low: dyfAtLow, high: dyfAtHigh, obs: dyfAtObs,
   xRange: [1998.1, 2016.87], yRange: [2338.2, 2614.7], xTicks: yearsDyfamed, yTicks: dyfAtTicks,
   color: '#66A61E', band: 'rgba(102,166,30,0.28)', legendPos: [74, 270], labels: dyfAtLegend},
  {row: 1, col: 1, site: 'DYFAMED', start: dyfCtStart, mean: dyfCtMean, low: dyfCtLow, high: dyfCtHigh, obs: dyfCtObs,
   xRange: [1998.1, 2016.87], yRange: [2034, 2333.2], xTicks: yearsDyfamed, yTicks: dyfCtTicks,
   color: '#66A61E', band: 'rgba(102,166,30,0.28)', legendPos: [711, 225], labels: dyfCtLegend},
  {row: 2, col: 0, site: 'ESTOC', start: estAtStart, mean: estAtMean, low: estAtLow, high: estAtHigh, obs: estAtObs,
   xRange: [1995.78, 2008.85], yRange: [2335.5, 2470.9], xTicks: yearsEstoc, yTicks: estAtTicks,
   color: '#E6AB02', band: 'rgba(230,171,2,0.30)', legendPos: [74, 504], labels: estAtLegend},
  {row: 2, col: 1, site: 'ESTOC', start: estCtStart, mean: estCtMean, low: estCtLow, high: estCtHigh, obs: estCtObs,
   xRange: [1995.78, 2008.85], yRange: [2020.1, 2164.7], xTicks: yearsEstoc, yTicks: estCtTicks,
   color: '#E6AB02', band: 'rgba(230,171,2,0.30)', legendPos: [735, 504], labels: estCtLegend},
  {row: 3, col: 0, site: 'HOT', start: hotAtStart, mean: hotAtMean, low: hotAtLow, high: hotAtHigh, obs: hotAtObs,
   xRange: [1988.7, 2019.9], yRange: [2219.5, 2379.5], xTicks: yearsFrom1991, yTicks: hotAtTicks,
   color: '#A6761D', band: 'rgba(166,118,29,0.32)', legendPos: [104, 692], labels: hotAtLegend},
  {row: 3, col: 1, site: 'HOT', start: hotCtStart, mean: hotCtMean, low: hotCtLow, high: hotCtHigh, obs: hotCtObs,
   xRange: [1988.7, 2019.9], yRange: [1915.1, 2061.5], xTicks: yearsFrom1991, yTicks: hotCtTicks,
   color: '#A6761D', band: 'rgba(166,118,29,0.32)', legendPos: [675, 603], labels: hotCtLegend}
];

function toPairs(start, vals) {
  return vals.map(function (v, i) { return [start + i * STEP, v]; });
}

function plain(v) { return String(v); }

// one polygon per band: lower edge forward, upper edge back, via the axis scales
function bandRenderer(rows, fill) {
  return function (params, api) {
    if (params.dataIndex !== 0) { return; }
    var pts = [];
    for (var k = 0; k < rows.length; k++) { pts.push(api.coord([rows[k][0], rows[k][1]])); }
    for (var j = rows.length - 1; j >= 0; j--) { pts.push(api.coord([rows[j][0], rows[j][2]])); }
    return {type: 'polygon', shape: {points: pts}, style: {fill: fill}};
  };
}

var richLegend = {
  sup: {fontFamily: FONT, fontSize: 9, color: '#1a1a1a', verticalAlign: 'top', lineHeight: 12},
  sub: {fontFamily: FONT, fontSize: 9, color: '#1a1a1a', verticalAlign: 'bottom', lineHeight: 12},
  sub2: {fontFamily: FONT, fontSize: 7, color: '#1a1a1a', verticalAlign: 'bottom', lineHeight: 8},
  it: {fontFamily: FONT, fontSize: 14, color: '#1a1a1a', fontStyle: 'italic'}
};

var grids = [], xAxes = [], yAxes = [], series = [], legends = [], labelMap = {};

panels.forEach(function (p, i) {
  grids.push({
    left: colLeft[p.col], top: rowTop[p.row], width: plotWidth, height: rowHeight[p.row],
    show: true, backgroundColor: '#fff', borderColor: '#333', borderWidth: 1.2
  });
  xAxes.push({
    type: 'value', gridIndex: i, min: p.xRange[0], max: p.xRange[1],
    axisLine: {show: false},
    axisTick: {show: false, customValues: p.xTicks},
    axisLabel: {customValues: p.xTicks, formatter: plain, fontFamily: FONT, fontSize: 12, color: '#333', margin: 5},
    splitLine: {show: true, lineStyle: {color: '#dddddd', width: 1}},
    name: p.row === 3 ? 'Year' : '', nameLocation: 'middle', nameGap: 20,
    nameTextStyle: {fontFamily: FONT, fontSize: 15, color: '#111'}
  });
  yAxes.push({
    type: 'value', gridIndex: i, min: p.yRange[0], max: p.yRange[1],
    axisLine: {show: false},
    axisTick: {show: false, customValues: p.yTicks},
    axisLabel: {customValues: p.yTicks, formatter: plain, fontFamily: FONT, fontSize: 12.5, color: '#333', margin: 6},
    splitLine: {show: true, lineStyle: {color: '#dddddd', width: 1}},
    name: p.site, nameLocation: 'middle', nameGap: 28,
    nameTextStyle: {fontFamily: FONT, fontSize: 16, color: '#111'}
  });

  var bandRows = p.low.map(function (v, k) { return [p.start + k * STEP, v, p.high[k]]; });
  series.push({
    type: 'custom', xAxisIndex: i, yAxisIndex: i, silent: true, z: 1, clip: true,
    data: bandRows, encode: {x: 0, y: [1, 2]},
    renderItem: bandRenderer(bandRows, p.band)
  });
  series.push({
    name: 'm' + i, type: 'line', xAxisIndex: i, yAxisIndex: i, z: 2,
    data: toPairs(p.start, p.mean), symbol: 'none', showSymbol: false,
    lineStyle: {color: p.color, width: 2}, itemStyle: {color: p.color}
  });
  series.push({
    name: 'o' + i, type: 'scatter', xAxisIndex: i, yAxisIndex: i, z: 3,
    data: p.obs, symbol: STAR, symbolSize: 7,
    itemStyle: {color: '#1a1a1a', opacity: 0.9}
  });

  labelMap['m' + i] = p.labels[0];
  labelMap['o' + i] = p.labels[1];
  legends.push({
    left: p.legendPos[0], top: p.legendPos[1], orient: 'vertical', selectedMode: false, z: 10,
    data: [{name: 'm' + i, icon: LINE_ICON, itemStyle: {color: p.color}},
           {name: 'o' + i, icon: STAR}],
    itemWidth: 29, itemHeight: 8, itemGap: 3, padding: [5, 10, 5, 5],
    backgroundColor: 'rgba(255,255,255,0.62)', borderColor: '#d4d4d4', borderWidth: 1, borderRadius: 4,
    formatter: function (name) { return labelMap[name]; },
    textStyle: {fontFamily: FONT, fontSize: 13, color: '#1a1a1a', lineHeight: 20, padding: [0, 0, 0, 5], rich: richLegend}
  });
});

var titleRich = {
  sub: {fontFamily: FONT, fontSize: 10.5, color: '#111', verticalAlign: 'bottom', lineHeight: 12},
  it: {fontFamily: FONT, fontSize: 15, color: '#111', fontStyle: 'italic'}
};

var option = {
  backgroundColor: '#fff',
  animation: false,
  title: [
    {text: '(a) A{sub|T} [{it|μ}mol/kg]', left: 335, top: 6, textAlign: 'center',
     textStyle: {fontFamily: FONT, fontSize: 15, fontWeight: 'normal', color: '#111', lineHeight: 20, rich: titleRich}},
    {text: '(b) C{sub|T} [{it|μ}mol/kg]', left: 936, top: 6, textAlign: 'center',
     textStyle: {fontFamily: FONT, fontSize: 15, fontWeight: 'normal', color: '#111', lineHeight: 20, rich: titleRich}}
  ],
  grid: grids,
  xAxis: xAxes,
  yAxis: yAxes,
  legend: legends,
  series: series
};

var dom = document.getElementById('container');
var myChart = echarts.init(dom);
myChart.setOption(option);

window.addEventListener('resize', myChart.resize);
</script>
</body>
</html>
